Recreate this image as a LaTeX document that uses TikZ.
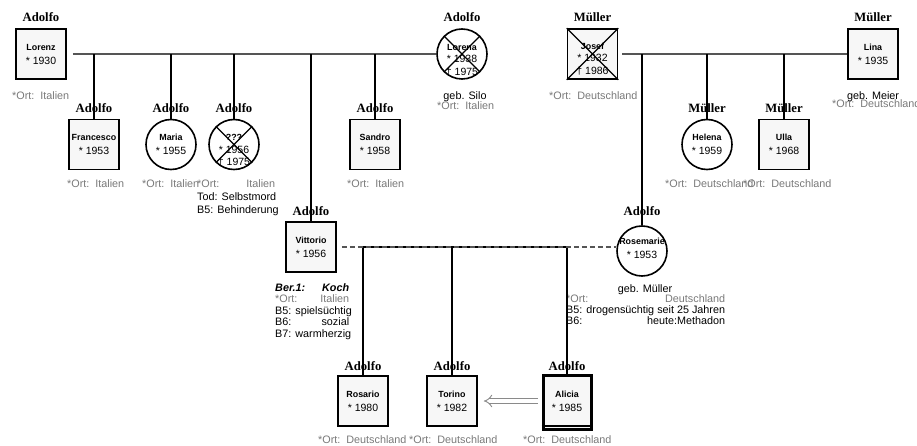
\documentclass[tikz,border=0pt]{standalone}
\usepackage{fontspec}
\setmainfont{Liberation Sans}
\newfontfamily\famserif{Liberation Serif}
\usetikzlibrary{arrows.meta}

\definecolor{ortgray}{HTML}{7A7A7A}
\definecolor{boxfill}{HTML}{F7F7F7}
\definecolor{hline}{HTML}{555555}
\definecolor{arrgray}{HTML}{8A8A8A}

\tikzset{
  mbox/.style={draw, line width=1.6pt, fill=boxfill, minimum width=50pt, minimum height=50pt, inner sep=0pt},
  fcirc/.style={draw, circle, line width=1.6pt, fill=white, minimum size=50pt, inner sep=0pt},
  nm/.style={font=\fontsize{8.9}{10}\selectfont\bfseries, inner sep=0pt, anchor=base},
  yr/.style={font=\fontsize{10.5}{12}\selectfont, inner sep=0pt, anchor=base},
  fam/.style={font=\famserif\fontsize{12.7}{14}\selectfont\bfseries, inner sep=0pt, anchor=base},
  info/.style={font=\fontsize{10.8}{12}\selectfont, inner sep=0pt, anchor=base west},
  infoc/.style={font=\fontsize{10.8}{12}\selectfont, inner sep=0pt, anchor=base},
  ort/.style={info, text=ortgray},
  sib/.style={draw=hline, line width=1.8pt},
  drop/.style={draw=black, line width=1.8pt},
  partner/.style={draw=hline, line width=1.8pt, dash pattern=on 5pt off 3pt},
  crossline/.style={draw=black, line width=1.3pt},
}

% box person: id, cx, cy, name, year, surname, surname baseline
\newcommand\pbox[7]{%
  \node[mbox] (#1) at (#2,#3) {};
  \node[nm] (#1-n) at ([yshift=3.5pt]#1.center) {#4};
  \node[yr] (#1-y) at ([yshift=-10.5pt]#1.center) {* #5};
  \node[fam] (#1-s) at (#2,#7) {#6};
}
\newcommand\pcirc[7]{%
  \node[fcirc] (#1) at (#2,#3) {};
  \node[nm] (#1-n) at ([yshift=3.5pt]#1.center) {#4};
  \node[yr] (#1-y) at ([yshift=-10.5pt]#1.center) {* #5};
  \node[fam] (#1-s) at (#2,#7) {#6};
}
% dead versions: three text lines
\newcommand\pboxd[8]{%
  \node[mbox] (#1) at (#2,#3) {};
  \node[nm] (#1-n) at ([yshift=4.5pt]#1.center) {#4};
  \node[yr] (#1-y) at ([yshift=-8pt]#1.center) {* #5};
  \node[yr] (#1-d) at ([yshift=-21pt]#1.center) {\textdagger\ #8};
  \node[fam] (#1-s) at (#2,#7) {#6};
  \draw[crossline] (#1.north west) -- (#1.south east) (#1.north east) -- (#1.south west);
}
\newcommand\pcircd[8]{%
  \node[fcirc] (#1) at (#2,#3) {};
  \node[nm] (#1-n) at ([yshift=3.5pt]#1.center) {#4};
  \node[yr] (#1-y) at ([yshift=-9pt]#1.center) {* #5};
  \node[yr] (#1-d) at ([yshift=-21.5pt]#1.center) {\textdagger\ #8};
  \node[fam] (#1-s) at (#2,#7) {#6};
  \draw[crossline] (#1.45) -- (#1.225) (#1.135) -- (#1.315);
}
\newcommand\ortline[1]{*Ort:\ \ #1}
\newcommand\lrpair[3]{\hbox to #1{#2\hfill #3}}

\begin{document}
\begin{tikzpicture}[x=1pt,y=-1pt]
\fill[white] (0,0) rectangle (917,446);
\useasboundingbox (0,0) rectangle (917,446);

% ---------- generation 1 ----------
\pbox{lorenz}{41}{54}{Lorenz}{1930}{Adolfo}{21.5}
\pcircd{lorena}{462}{54}{Lorena}{1938}{Adolfo}{21.5}{1975}
\pboxd{josef}{592.5}{54}{Josef}{1932}{Müller}{21.5}{1986}
\pbox{lina}{873}{54}{Lina}{1935}{Müller}{21.5}

\node[ort] (lorenz-o) at (12,99.5) {\ortline{Italien}};
\node[infoc] (lorena-g) at (465,100) {geb. Silo};
\node[ort] (lorena-o) at (437,110) {\ortline{Italien}};
\node[ort] (josef-o) at (549,99.5) {\ortline{Deutschland}};
\node[infoc] (lina-g) at (873,100) {geb. Meier};
\node[ort] (lina-o) at (832,108) {\ortline{Deutschland}};

% ---------- generation 2 ----------
\pbox{francesco}{94}{144.5}{Francesco}{1953}{Adolfo}{113}
\pcirc{maria}{171}{144.5}{Maria}{1955}{Adolfo}{113}
\pcircd{unk}{234}{144.5}{???}{1956}{Adolfo}{113}{1975}
\pbox{sandro}{375}{144.5}{Sandro}{1958}{Adolfo}{113}
\pcirc{helena}{707}{144.5}{Helena}{1959}{Müller}{113}
\pbox{ulla}{784}{144.5}{Ulla}{1968}{Müller}{113}

\node[ort] (francesco-o) at (67,188) {\ortline{Italien}};
\node[ort] (maria-o) at (142,188) {\ortline{Italien}};
\node[ort] (unk-o) at (197,188) {\lrpair{78pt}{*Ort:}{Italien}};
\node[info] (unk-t) at (197,201) {Tod: Selbstmord};
\node[info] (unk-b) at (197,214) {B5: Behinderung};
\node[ort] (sandro-o) at (347,188) {\ortline{Italien}};
\node[ort] (helena-o) at (665,188) {\ortline{Deutschland}};
\node[ort] (ulla-o) at (743,188) {\ortline{Deutschland}};

\pbox{vittorio}{311}{247}{Vittorio}{1956}{Adolfo}{216}
\node[fcirc] (rosemarie) at (642,251) {};
\node[nm] (rosemarie-n) at (642,244) {Rosemarie};
\node[yr] (rosemarie-y) at (642,258) {* 1953};
\node[fam] (rosemarie-s) at (642,216) {Adolfo};

\node[info] (vit-1) at (275,291) {\lrpair{74pt}{\bfseries\itshape Ber.1:}{\bfseries\itshape Koch}};
\node[ort] (vit-2) at (275,302.5) {\lrpair{74pt}{*Ort:}{Italien}};
\node[info] (vit-3) at (275,314) {B5: spielsüchtig};
\node[info] (vit-4) at (275,325) {\lrpair{74pt}{B6:}{sozial}};
\node[info] (vit-5) at (275,337) {B7: warmherzig};

\node[infoc] (ros-g) at (645,292) {geb. Müller};
\node[ort] (ros-2) at (566,302.5) {\lrpair{159pt}{*Ort:}{Deutschland}};
\node[info] (ros-3) at (566,313.5) {B5: drogensüchtig seit 25 Jahren};
\node[info] (ros-4) at (566,324) {\lrpair{159pt}{B6:}{heute:Methadon}};

% ---------- generation 3 ----------
\pbox{rosario}{363}{401}{Rosario}{1980}{Adolfo}{370}
\pbox{torino}{452}{401}{Torino}{1982}{Adolfo}{370}
\node[mbox, line width=3pt, minimum width=48pt, minimum height=54pt] (alicia) at (567,402) {};
\draw[line width=1.2pt] ([yshift=4.5pt]alicia.south west) -- ([yshift=4.5pt]alicia.south east);
\node[nm] (alicia-n) at (567,397.5) {Alicia};
\node[yr] (alicia-y) at (567,411.5) {* 1985};
\node[fam] (alicia-s) at (567,370) {Adolfo};

\node[ort] (rosario-o) at (318,443) {\ortline{Deutschland}};
\node[ort] (torino-o) at (409,443) {\ortline{Deutschland}};
\node[ort] (alicia-o) at (523,443) {\ortline{Deutschland}};

% ---------- connectors ----------
\draw[sib] ([xshift=6pt]lorenz.east) -- (lorenz.east -| lorena.west);
\foreach \c in {francesco, maria, unk, sandro, vittorio}
  \draw[drop] (\c.north) -- (\c.north |- lorenz.east);

\draw[sib] ([xshift=4pt]josef.east) -- (lina.west);
\foreach \c in {rosemarie, helena, ulla}
  \draw[drop] (\c.north) -- (\c.north |- josef.east);

\draw[drop] (rosario.north |- vittorio.east) -- (alicia.north |- vittorio.east);
\foreach \c in {rosario, torino, alicia}
  \draw[drop] (\c.north) -- (\c.north |- vittorio.east);
\draw[partner] ([xshift=5pt]vittorio.east) -- (vittorio.east -| rosemarie.west);

\draw[arrgray, line width=0.9pt, double, double distance=3.5pt, -{Implies}]
  ([xshift=-4pt]alicia.west |- torino.east) -- ([xshift=6pt]torino.east);
\end{tikzpicture}
\end{document}
